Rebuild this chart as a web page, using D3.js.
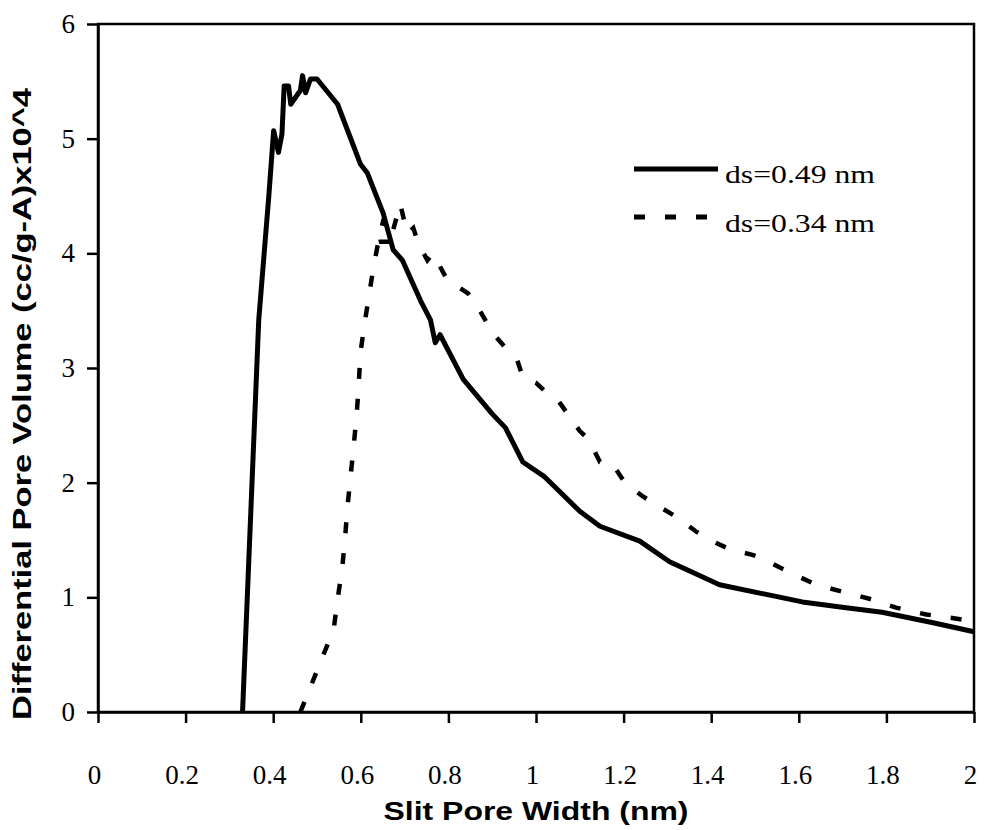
<!DOCTYPE html>
<html>
<head>
<meta charset="utf-8">
<script src="https://cdn.jsdelivr.net/npm/d3@7"></script>
<style>
  body { margin: 0; background: #fff; }
  svg { display: block; }
  .tick text { font-family: "Liberation Serif", "Times New Roman", serif; font-size: 27px; fill: #000; }
  .axis path, .axis line { stroke: #000; stroke-width: 2.5; }
</style>
</head>
<body>
<script>
// series: [slit pore width (nm), differential pore volume (cc/g-A) x10^4]
const seriesNames = ["ds=0.49 nm", "ds=0.34 nm"];

const ds049 = [
  [0.330, 0], [0.367, 3.42], [0.390, 4.50], [0.401, 5.07], [0.412, 4.88],
  [0.420, 5.04], [0.425, 5.46], [0.435, 5.46], [0.440, 5.30], [0.462, 5.42],
  [0.467, 5.55], [0.474, 5.40], [0.485, 5.52], [0.500, 5.52], [0.547, 5.30],
  [0.599, 4.78], [0.615, 4.70], [0.651, 4.35], [0.674, 4.03], [0.695, 3.94],
  [0.736, 3.59], [0.759, 3.42], [0.770, 3.22], [0.781, 3.29], [0.834, 2.90],
  [0.900, 2.60], [0.930, 2.48], [0.970, 2.18], [1.020, 2.05], [1.100, 1.75],
  [1.146, 1.62], [1.237, 1.49], [1.305, 1.31], [1.419, 1.11], [1.608, 0.96],
  [1.708, 0.91], [1.790, 0.87], [1.904, 0.78], [2.000, 0.70]
];

const ds034 = [
  [0.462, 0], [0.538, 0.72], [0.547, 0.98], [0.558, 1.27], [0.565, 1.56],
  [0.569, 1.77], [0.576, 2.03], [0.583, 2.29], [0.590, 2.57], [0.595, 2.83],
  [0.599, 3.13], [0.610, 3.42], [0.617, 3.59], [0.629, 3.88], [0.640, 4.10],
  [0.652, 4.30], [0.666, 4.10], [0.642, 4.10], [0.670, 4.15], [0.690, 4.43],
  [0.706, 4.17], [0.720, 4.22], [0.731, 4.09], [0.752, 3.94], [0.765, 4.00],
  [0.797, 3.77], [0.845, 3.65], [0.872, 3.50], [0.902, 3.30], [0.934, 3.16],
  [0.957, 3.07], [0.970, 2.92], [1.000, 2.87], [1.020, 2.80], [1.050, 2.72],
  [1.100, 2.45], [1.120, 2.38], [1.146, 2.18], [1.175, 2.16], [1.203, 2.00],
  [1.244, 1.88], [1.282, 1.79], [1.321, 1.70], [1.367, 1.57], [1.403, 1.49],
  [1.442, 1.42], [1.494, 1.37], [1.510, 1.35], [1.572, 1.23], [1.640, 1.11],
  [1.699, 1.05], [1.768, 0.98], [1.822, 0.91], [1.891, 0.85], [1.950, 0.82],
  [2.000, 0.79]
];

const xTicks = [0, 0.2, 0.4, 0.6, 0.8, 1, 1.2, 1.4, 1.6, 1.8, 2];
const yTicks = [0, 1, 2, 3, 4, 5, 6];

const xTitle = "Slit Pore Width (nm)";
const yTitle = "Differential Pore Volume (cc/g-A)x10^4";

window.onload = function() {

    const W = 984, H = 830;
    const margins = {top: 24, right: 10, bottom: 118, left: 98},
        width = W - margins.left - margins.right,
        height = H - margins.top - margins.bottom;

    var svg = d3.select("body").append("svg")
        .attr("width", W)
        .attr("height", H);

    var g = svg.append("g")
        .attr("transform", "translate(" + margins.left + "," + margins.top + ")");

    var xScale = d3.scaleLinear().domain([0, 2]).range([0, width]);
    var yScale = d3.scaleLinear().domain([0, 6]).range([height, 0]);

    // frame (top and right edges)
    g.append("rect")
        .attr("x", 0).attr("y", 0)
        .attr("width", width).attr("height", height)
        .attr("fill", "none")
        .attr("stroke", "#000")
        .attr("stroke-width", 2.5);

    // axes
    g.append("g")
        .attr("class", "axis")
        .attr("transform", "translate(0," + height + ")")
        .call(d3.axisBottom(xScale).tickValues(xTicks).tickFormat(function(d) { return d; })
            .tickSize(11).tickSizeOuter(0).tickPadding(42))
        .selectAll("text").attr("dx", -4);

    g.append("g")
        .attr("class", "axis")
        .call(d3.axisLeft(yScale).tickValues(yTicks).tickFormat(d3.format("d"))
            .tickSize(11).tickSizeOuter(0).tickPadding(12));

    var line = d3.line()
        .x(function(d) { return xScale(d[0]); })
        .y(function(d) { return yScale(d[1]); });

    g.append("path")
        .datum(ds034)
        .attr("fill", "none")
        .attr("stroke", "#000")
        .attr("stroke-width", 4.5)
        .attr("stroke-dasharray", "11,20")
        .attr("d", line);

    g.append("path")
        .datum(ds049)
        .attr("fill", "none")
        .attr("stroke", "#000")
        .attr("stroke-width", 5)
        .attr("stroke-linejoin", "round")
        .attr("d", line);

    // legend
    var legend = svg.append("g").attr("transform", "translate(634,169)");
    legend.append("line")
        .attr("x1", 0).attr("x2", 84).attr("y1", 0).attr("y2", 0)
        .attr("stroke", "#000").attr("stroke-width", 5);
    legend.append("line")
        .attr("x1", 0).attr("x2", 74).attr("y1", 48).attr("y2", 48)
        .attr("stroke", "#000").attr("stroke-width", 5)
        .attr("stroke-dasharray", "11,20");
    legend.selectAll("text.lab")
        .data(seriesNames)
        .enter().append("text")
        .attr("class", "lab")
        .attr("x", 91)
        .attr("y", function(d, i) { return 14 + i * 49; })
        .attr("font-family", "Liberation Serif, Times New Roman, serif")
        .attr("font-size", 26)
        .attr("textLength", 150)
        .attr("lengthAdjust", "spacingAndGlyphs")
        .text(function(d) { return d; });

    // axis titles
    svg.append("text")
        .attr("x", 536)
        .attr("y", 820)
        .attr("text-anchor", "middle")
        .attr("font-family", "Liberation Sans, Arial, sans-serif")
        .attr("font-weight", "bold")
        .attr("font-size", 26)
        .attr("textLength", 305)
        .attr("lengthAdjust", "spacingAndGlyphs")
        .text(xTitle);

    svg.append("text")
        .attr("transform", "translate(31,404) rotate(-90)")
        .attr("text-anchor", "middle")
        .attr("font-family", "Liberation Sans, Arial, sans-serif")
        .attr("font-weight", "bold")
        .attr("font-size", 26)
        .attr("textLength", 632)
        .attr("lengthAdjust", "spacingAndGlyphs")
        .text(yTitle);
};
</script>
</body>
</html>
